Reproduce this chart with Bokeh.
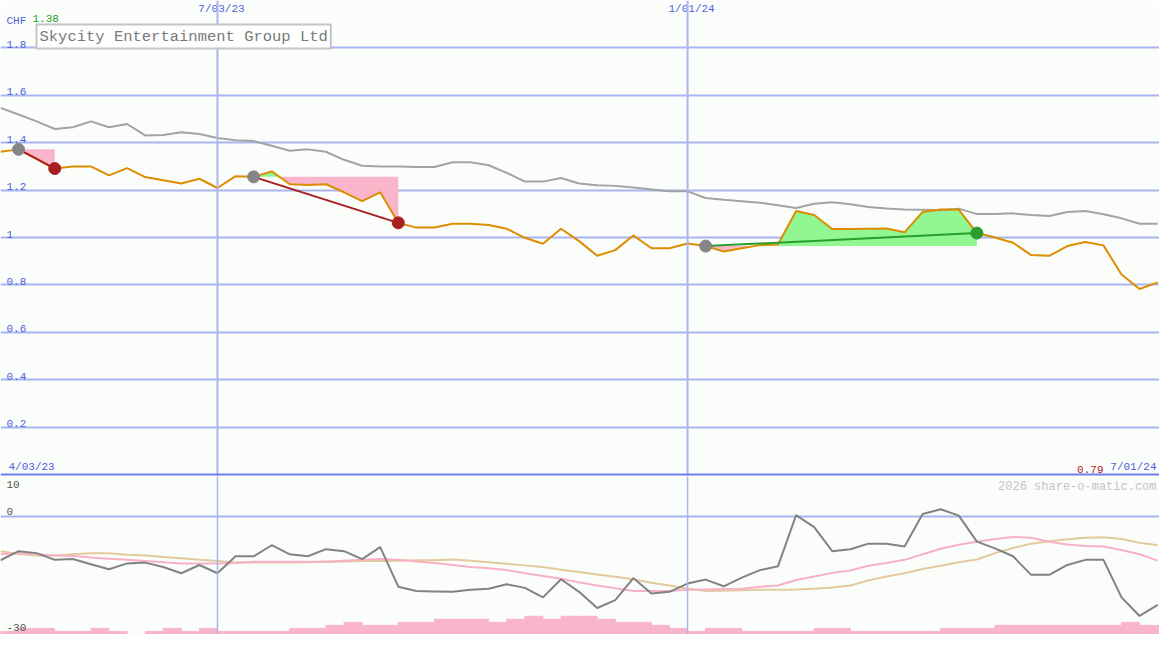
import numpy as np
from bokeh.plotting import figure
from bokeh.models import Range1d, FixedTicker, Span, Label
from bokeh.layouts import column
from bokeh.embed import file_html
from bokeh.resources import INLINE
from bokeh.core.properties import value

# ---------------- data (weekly, index 0 .. 64) ----------------
price = [1.362, 1.372, 1.333, 1.291, 1.300, 1.300, 1.262, 1.293, 1.255, 1.242,
         1.228, 1.248, 1.209, 1.259, 1.256, 1.279, 1.225, 1.222, 1.225, 1.191,
         1.154, 1.191, 1.062, 1.042, 1.042, 1.058, 1.058, 1.053, 1.037, 0.999,
         0.974, 1.037, 0.985, 0.923, 0.947, 1.009, 0.955, 0.955, 0.975, 0.964,
         0.941, 0.955, 0.968, 0.971, 1.112, 1.095, 1.036, 1.036, 1.037, 1.038,
         1.022, 1.108, 1.118, 1.118, 1.019, 1.000, 0.978, 0.926, 0.923, 0.964,
         0.981, 0.967, 0.844, 0.783, 0.811]

benchmark = [1.547, 1.519, 1.490, 1.458, 1.465, 1.490, 1.465, 1.479, 1.431, 1.433,
             1.444, 1.437, 1.420, 1.410, 1.407, 1.387, 1.366, 1.372, 1.362, 1.328,
             1.303, 1.300, 1.300, 1.298, 1.298, 1.318, 1.318, 1.305, 1.273, 1.236,
             1.236, 1.251, 1.228, 1.221, 1.218, 1.211, 1.203, 1.195, 1.195, 1.167,
             1.159, 1.153, 1.147, 1.136, 1.125, 1.143, 1.149, 1.140, 1.129, 1.123,
             1.118, 1.117, 1.115, 1.122, 1.099, 1.099, 1.102, 1.095, 1.091, 1.108,
             1.112, 1.098, 1.081, 1.058, 1.058]

oscillator = [-11.2, -8.9, -9.4, -11.1, -10.9, -12.2, -13.5, -12.0, -11.8, -12.9,
              -14.5, -12.4, -14.5, -10.2, -10.2, -7.4, -9.7, -10.2, -8.4, -8.9,
              -10.9, -7.9, -17.9, -19.0, -19.1, -19.2, -18.7, -18.4, -17.3, -18.2,
              -20.6, -16.0, -19.2, -23.3, -21.3, -15.7, -19.6, -19.2, -17.1, -16.1,
              -17.8, -15.6, -13.7, -12.7, 0.2, -2.8, -8.9, -8.4, -7.0, -7.0,
              -7.7, 0.5, 1.7, 0.1, -6.5, -8.2, -10.2, -14.9, -14.9, -12.4,
              -11.1, -11.1, -20.6, -25.3, -22.5]

osc_avg_fast = [-9.7, -9.4, -9.6, -10.0, -10.1, -10.5, -10.8, -11.1, -11.4, -11.7,
                -12.0, -12.0, -12.0, -11.9, -11.6, -11.6, -11.6, -11.6, -11.6, -11.3,
                -11.1, -10.9, -11.1, -11.5, -11.9, -12.4, -12.9, -13.2, -13.7, -14.5,
                -15.2, -15.9, -16.8, -17.6, -18.3, -19.0, -19.0, -19.0, -18.7, -18.6,
                -18.5, -18.4, -17.9, -17.6, -16.2, -15.3, -14.4, -13.8, -12.6, -11.9,
                -11.1, -9.7, -8.3, -7.3, -6.5, -5.8, -5.3, -5.5, -6.5, -7.2,
                -7.6, -7.7, -8.6, -9.7, -11.3]

osc_avg_slow = [-8.9, -9.6, -10.0, -10.0, -9.7, -9.4, -9.4, -9.8, -10.0, -10.4,
                -10.7, -11.1, -11.4, -11.8, -11.8, -11.8, -11.8, -11.7, -11.6, -11.5,
                -11.4, -11.4, -11.3, -11.2, -11.2, -11.0, -11.3, -11.7, -12.1, -12.5,
                -12.9, -13.6, -14.2, -14.8, -15.4, -16.0, -16.9, -17.6, -18.4, -19.0,
                -18.9, -18.8, -18.7, -18.7, -18.6, -18.4, -18.1, -17.6, -16.3, -15.3,
                -14.5, -13.4, -12.6, -11.7, -11.0, -9.4, -8.1, -7.0, -6.4, -5.9,
                -5.5, -5.4, -5.8, -6.8, -7.4]

volume = [1, 2, 2, 1, 1, 2, 1, 0, 1, 2,
          1, 2, 1, 1, 1, 1, 2, 2, 3, 4,
          3, 3, 4, 4, 5, 5, 5, 4, 5, 6,
          5, 6, 6, 5, 4, 4, 3, 2, 1, 2,
          2, 1, 1, 1, 1, 2, 2, 1, 1, 1,
          1, 1, 2, 2, 2, 3, 3, 3, 3, 3,
          3, 3, 4, 3, 3]

trade_entry = [1, 14, 39]
trade_exit = [3, 22, 54]

price_ticks = [0.2, 0.4, 0.6, 0.8, 1.0, 1.2, 1.4, 1.6, 1.8]
price_tick_labels = ["0.2", "0.4", "0.6", "0.8", "1", "1.2", "1.4", "1.6", "1.8"]
date_tick_idx = [12, 38]
date_tick_labels = ["7/03/23", "1/01/24"]
osc_ticks = [10, 0, -30]
osc_tick_labels = ["10", "0", "-30"]

title = "Skycity Entertainment Group Ltd"
currency = "CHF"
first_price_label = "1.38"
last_price_label = "0.79"
start_label = "4/03/23"
end_label = "7/01/24"
credit = "2026 share-o-matic.com"

# ---------------- style ----------------
BG = "#FBFDFB"
GRID = "#A9B5F1"
DIV = "#6F7FE8"
TXT = "#4F5FE0"
FONT = "Liberation Mono"
FS = value("11px")
PINK_FILL = "#F9B5C9"
GREEN_FILL = "#92F792"
W, H1, H2 = 1159, 476, 158

weeks = np.arange(len(price))
xr = Range1d(0, 64.1)


def make_fig(h, yr):
    f = figure(width=W, height=h, x_range=xr, y_range=yr, output_backend="svg",
               toolbar_location=None, min_border=0, background_fill_color=BG,
               border_fill_color=BG, outline_line_color=None)
    f.xaxis.visible = False
    f.yaxis.visible = False
    f.xgrid.visible = False
    f.ygrid.grid_line_color = GRID
    f.ygrid.grid_line_width = 2
    return f


# ---------------- price panel ----------------
p = make_fig(H1, Range1d(-0.008, 2.0))
p.ygrid.ticker = FixedTicker(ticks=price_ticks + [2.0])
for xi in date_tick_idx:
    p.add_layout(Span(location=xi, dimension="height", line_color=GRID, line_width=2))
p.add_layout(Span(location=0, dimension="width", line_color=DIV, line_width=2))

price_arr = np.array(price)
for e, x in zip(trade_entry, trade_exit):
    lvl = price_arr[e]
    xs, ys = [], []
    for k in range(e, x):
        ya, yb = price_arr[k], price_arr[k + 1]
        xs.append(k)
        ys.append(ya)
        if (ya - lvl) * (yb - lvl) < 0:
            t = (lvl - ya) / (yb - ya)
            xs.append(k + t)
            ys.append(lvl)
    xs.append(x)
    ys.append(price_arr[x])
    xs = np.array(xs, dtype=float)
    ys = np.array(ys)
    p.varea(x=xs, y1=np.full(len(xs), lvl), y2=np.maximum(ys, lvl), color=GREEN_FILL)
    p.varea(x=xs, y1=np.minimum(ys, lvl), y2=np.full(len(xs), lvl), color=PINK_FILL)

p.line(weeks, benchmark, color="#A3A3A3", line_width=2)
p.line(weeks, price, color="#DC8E00", line_width=2)

e_px = [price[i] for i in trade_entry]
x_px = [price[i] for i in trade_exit]
res_col = ["#2A9E2A" if b > a else "#A81F1F" for a, b in zip(e_px, x_px)]
p.segment(x0=trade_entry, y0=e_px, x1=trade_exit, y1=x_px, color=res_col, line_width=2)
p.scatter(trade_entry, e_px, size=12, color="#858585")
p.scatter(trade_exit, x_px, size=12, color=res_col)

tf = value(FONT)
p.text(x=[0] * len(price_ticks), y=price_ticks, text=price_tick_labels, x_offset=6,
       text_font=tf, text_font_size=FS, text_color=TXT, text_baseline="bottom")
p.text(x=date_tick_idx, y=[2.0] * len(date_tick_idx), text=date_tick_labels, x_offset=4,
       y_offset=2, text_font=tf, text_font_size=FS, text_color=TXT,
       text_align="center", text_baseline="top")
p.text(x=[0], y=[2.0], text=[currency], x_offset=6, y_offset=14, text_font=tf,
       text_font_size=FS, text_color=TXT, text_baseline="top")
p.text(x=[0], y=[2.0], text=[first_price_label], x_offset=32, y_offset=14, text_font=tf,
       text_font_size=FS, text_color="#22A022", text_baseline="top")
p.text(x=[0], y=[0], text=[start_label], x_offset=8, y_offset=-2, text_font=tf,
       text_font_size=FS, text_color=TXT, text_baseline="bottom")
p.text(x=[64.1], y=[0], text=[end_label], x_offset=-3, y_offset=-2, text_font=tf,
       text_font_size=FS, text_color=TXT, text_baseline="bottom", text_align="right")
p.text(x=[64.1], y=[0], text=[last_price_label], x_offset=-56, y_offset=-2, text_font=tf,
       text_font_size=FS, text_color="#B01C1C", text_baseline="bottom", text_align="right")

p.add_layout(Label(x=0, y=2.0, x_offset=36, y_offset=-36, text=title, text_font=FONT,
                   text_font_size="15.5px", text_color="#7A7A7A", text_baseline="middle",
                   border_line_color="#C4C4C4", border_line_width=2,
                   background_fill_color="#FDFEFD", padding=3))

# ---------------- oscillator panel ----------------
q = make_fig(H2, Range1d(-30, 10))
q.ygrid.ticker = FixedTicker(ticks=[0])
q.extra_y_ranges = {"vol": Range1d(0, 52)}
for xi in date_tick_idx:
    q.add_layout(Span(location=xi, dimension="height", line_color=GRID, line_width=1.5))
q.vbar(x=weeks + 0.5, top=volume, width=1, color=PINK_FILL, y_range_name="vol")
q.line(weeks, osc_avg_slow, color="#E2CA9C", line_width=2)
q.line(weeks, osc_avg_fast, color="#F7B1C6", line_width=2)
q.line(weeks, oscillator, color="#828282", line_width=2)

q.text(x=[0], y=[10], text=[osc_tick_labels[0]], x_offset=6, y_offset=4, text_font=tf,
       text_font_size=FS, text_color="#555555", text_baseline="top")
q.text(x=[0], y=[osc_ticks[1]], text=[osc_tick_labels[1]], x_offset=6, y_offset=-1,
       text_font=tf, text_font_size=FS, text_color="#555555", text_baseline="bottom")
q.text(x=[0], y=[osc_ticks[2]], text=[osc_tick_labels[2]], x_offset=6, y_offset=-4,
       text_font=tf, text_font_size=FS, text_color="#555555", text_baseline="bottom")
q.text(x=[64.1], y=[10], text=[credit], x_offset=-3, y_offset=3, text_font=tf,
       text_font_size=value("12px"), text_color="#C4C4C4", text_baseline="top",
       text_align="right")

layout = column(p, q, spacing=0)
open("out.html", "w").write(file_html(layout, INLINE))
